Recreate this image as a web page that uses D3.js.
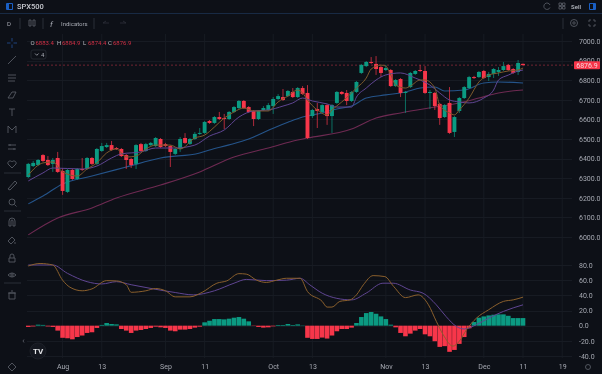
<!DOCTYPE html>
<html>
<head>
<meta charset="utf-8">
<script src="https://cdn.jsdelivr.net/npm/d3@7"></script>
<style>
html, body { margin: 0; padding: 0; background: #0d1017; overflow: hidden; }
svg { display: block; font-family: Roboto, sans-serif; filter: blur(0.4px); }
</style>
</head>
<body>
<script>
// candles (index = trading bar)
const opens  = [6306,6362,6367,6418,6393,6373,6403,6337,6230,6342,6296,6347,6347,6403,6373,6439,6459,6469,6454,6449,6418,6398,6373,6474,6439,6469,6464,6500,6474,6464,6424,6449,6505,6475,6500,6526,6531,6592,6582,6612,6607,6602,6638,6658,6694,6663,6643,6602,6648,6648,6668,6704,6714,6719,6740,6714,6760,6735,6617,6653,6638,6673,6617,6684,6740,6735,6694,6740,6837,6872,6893,6883,6867,6852,6852,6770,6806,6735,6765,6832,6852,6847,6735,6735,6679,6612,6684,6536,6643,6709,6760,6816,6816,6847,6816,6832,6842,6852,6878,6857,6842,6883.4];
const highs  = [6378,6388,6398,6423,6413,6403,6434,6352,6347,6347,6352,6403,6408,6408,6454,6480,6480,6490,6459,6454,6423,6403,6474,6480,6480,6485,6510,6505,6480,6469,6454,6510,6530,6505,6536,6556,6592,6597,6617,6638,6628,6643,6668,6699,6699,6668,6648,6648,6668,6684,6714,6729,6755,6750,6760,6765,6770,6775,6653,6684,6678,6678,6678,6745,6745,6750,6745,6796,6883,6898,6918,6923,6872,6878,6857,6806,6811,6745,6842,6852,6878,6872,6750,6740,6684,6678,6765,6617,6714,6770,6822,6822,6847,6852,6842,6862,6867,6893,6883,6862,6903,6884.9];
const lows   = [6301,6357,6362,6383,6362,6332,6327,6215,6225,6291,6291,6337,6342,6367,6367,6434,6454,6439,6444,6408,6347,6352,6347,6434,6434,6464,6459,6454,6459,6357,6418,6434,6475,6470,6495,6521,6526,6577,6577,6597,6551,6597,6633,6653,6653,6633,6566,6597,6643,6643,6628,6699,6694,6714,6709,6709,6725,6500,6607,6556,6633,6572,6531,6679,6725,6673,6689,6735,6832,6867,6883,6827,6816,6847,6765,6765,6714,6633,6760,6827,6842,6730,6653,6648,6572,6607,6526,6510,6633,6704,6755,6806,6811,6806,6796,6811,6822,6847,6847,6832,6827,6874.4];
const closes = [6373,6378,6393,6388,6367,6393,6332,6235,6342,6296,6347,6342,6403,6373,6449,6464,6469,6444,6449,6413,6393,6367,6469,6439,6474,6480,6505,6459,6464,6434,6449,6500,6480,6500,6526,6531,6587,6582,6612,6602,6602,6638,6663,6694,6658,6638,6602,6643,6658,6673,6704,6719,6699,6745,6714,6760,6730,6505,6648,6643,6673,6617,6673,6740,6730,6694,6740,6791,6878,6893,6888,6857,6837,6862,6770,6801,6735,6740,6837,6847,6847,6735,6740,6668,6607,6673,6531,6612,6709,6765,6816,6811,6842,6811,6832,6857,6852,6872,6852,6837,6888,6876.9];

// moving averages, read at the bars where they bend
const fastBars = [0,3,5,7,10,12,14,16,18,20,22,24,26,29,31,34,36,38,40,42,44,46,49,51,53,55,56,57,59,61,62,64,66,67,69,70,72,73,74,75,77,78,80,81,83,84,86,87,88,90,92,94,96,98,100,101];
const fastVals = [6316,6378,6383,6332,6311,6347,6378,6429,6449,6408,6413,6449,6469,6469,6449,6505,6520,6561,6607,6638,6658,6643,6643,6689,6719,6750,6735,6699,6648,6623,6648,6689,6735,6760,6811,6857,6877,6872,6827,6775,6760,6770,6801,6801,6760,6673,6633,6623,6648,6709,6791,6826,6837,6847,6852,6862];
const midBars  = [0,3,5,11,14,17,19,23,26,30,34,37,40,43,46,49,52,54,56,58,61,63,66,67,69,71,73,76,79,80,82,84,86,88,90,93,95,96,98,100,101];
const midVals  = [6286,6327,6352,6347,6362,6403,6424,6434,6454,6454,6469,6515,6546,6612,6643,6648,6668,6684,6709,6694,6679,6663,6663,6714,6760,6801,6827,6837,6811,6801,6775,6735,6699,6689,6684,6709,6750,6801,6826,6847,6852];
const slowBars = [0,3,7,13,20,27,35,37,41,45,50,53,56,60,63,66,69,73,77,80,83,85,89,93,96,101];
const slowVals = [6169,6209,6271,6311,6357,6403,6429,6444,6470,6500,6555,6585,6612,6633,6653,6668,6709,6725,6740,6760,6765,6745,6750,6786,6791,6786];
const longBars = [0,6,13,18,27,35,42,49,55,57,66,71,76,83,88,92,96,101];
const longVals = [6011,6097,6148,6199,6265,6332,6408,6454,6495,6505,6551,6607,6633,6663,6684,6709,6735,6750];

// MACD pane
const macdHist = [-1.7,-1,1.3,1,-1,-1.7,-6.5,-16,-16.6,-18,-15,-13,-9.6,-8.7,-3,1,3.5,2.2,1.7,-4.4,-6.5,-9.6,-6.5,-5.7,-4.4,-3,-1.3,-2.2,-3,-6.5,-7.4,-5.2,-5.2,-4.4,-2.6,-1.3,4.4,6.5,8.7,8.7,8.3,9.2,10.5,11.4,9.2,5.7,-0.4,-1.7,-2.6,-2.2,-0.9,0.9,0.9,2.2,0.9,1.7,0.4,-16,-17.5,-17.5,-15.7,-17,-13,-7.4,-4.4,-4.4,-2.6,3.5,11.4,16.6,18,15.7,12.2,8.7,1.3,-2.2,-9.6,-14,-10.5,-6.5,-4.4,-11.4,-14,-20.5,-28,-27,-34.5,-32,-24,-15,-3.5,4.8,10.5,12.2,13.5,14.4,14.9,14.9,13,10,10,10];
const macdBars = [0,2.4,5,7,8.5,11,13,16,18,20,21,24,26,28,30,33,35.5,38.5,40.5,43,44.5,46.6,48.6,50.7,52.7,55.5,57,60,61,62,63.6,65.7,67,68.4,70.4,72.8,74.6,77,79.6,81.7,83.3,84.7,86.7,88,89.5,91.5,94,97,99,101];
const macdVals = [78.7,82,80,60,50.7,46,48.5,59.4,59,54,44,46,49,46,38,38,44,56,59,68.6,68,60,57,60,62.5,62.5,45,32,24.5,24.5,32,34,40.6,53.8,66,64.7,51.6,37,40.6,27.5,5.7,-11.8,-27,-20.5,-5,10,21,32,34,37.6];
const signalBars = [0,5,8,12,15,18,21,25.5,30,33.7,38,42,44.5,48.6,52.7,55.5,57.5,60,63,66,69,72.4,74.5,78,80.6,83.3,85.3,87.4,89,91.5,94,97,101];
const signalVals = [80,80,69,58,55,58,54,48.5,43.7,40.6,46,56,61,59.4,60,62.5,53.7,42.8,36,34,43,56,56,47,42.8,27.5,12,-1,-4.4,1.3,10,18.8,27.5];

// axes
const priceTicks = [6000,6100,6200,6300,6400,6500,6600,6700,6800,6900,7000];
const macdTicks = [-40,-20,0,20,40,60,80];
const dateBars = [7,15,28,36,50,58,73,81,93,101,109];
const dateLabels = ["Aug","13","Sep","11","Oct","13","Nov","13","Dec","11","19"];
const lastPrice = 6876.9;

const width = 602;
const height = 374;
const bg = "#0d1017";
const up = "#0b9a82";
const down = "#f7364a";
const textCol = "#a6a9b2";
const iconCol = "#565a63";
const gridCol = "#171b23";

const svg = d3.select("body").append("svg")
    .attr("width", width)
    .attr("height", height);

svg.append("rect").attr("width", width).attr("height", height).attr("fill", bg);

var x = d3.scaleLinear().domain([0, 101]).range([28.3, 523]);
var y = d3.scaleLinear().domain([6000, 7000]).range([237, 41]);
var yMacd = d3.scaleLinear().domain([-40, 80]).range([356, 265]);

// grid
svg.append("g").selectAll("line").data(dateBars).join("line")
    .attr("x1", d => x(d)).attr("x2", d => x(d))
    .attr("y1", 34).attr("y2", 358)
    .attr("stroke", gridCol);
svg.append("g").selectAll("line").data(priceTicks).join("line")
    .attr("x1", 27).attr("x2", 572)
    .attr("y1", d => Math.round(y(d)) + 0.5).attr("y2", d => Math.round(y(d)) + 0.5)
    .attr("stroke", gridCol);
svg.append("g").selectAll("line").data(macdTicks).join("line")
    .attr("x1", 27).attr("x2", 572)
    .attr("y1", d => Math.round(yMacd(d)) + 0.5).attr("y2", d => Math.round(yMacd(d)) + 0.5)
    .attr("stroke", gridCol);

// last price dashed line
svg.append("line")
    .attr("x1", 27).attr("x2", 574)
    .attr("y1", y(lastPrice)).attr("y2", y(lastPrice))
    .attr("stroke", "#8a2a38").attr("stroke-width", 0.8)
    .attr("stroke-dasharray", "2,2");

// moving averages go under the candles
function drawLine(bars, vals, yScale, color, w) {
    const line = d3.line()
        .x((d, i) => x(bars[i]))
        .y(d => yScale(d))
        .curve(d3.curveMonotoneX);
    svg.append("path")
        .attr("d", line(vals))
        .attr("fill", "none")
        .attr("stroke", color)
        .attr("stroke-width", w);
}
drawLine(longBars, longVals, y, "#6e2a52", 1.1);
drawLine(slowBars, slowVals, y, "#25548a", 1.1);

// candles
const idx = d3.range(opens.length);
const bodyW = 3.9;
svg.append("g").selectAll("line").data(idx).join("line")
    .attr("x1", i => x(i)).attr("x2", i => x(i))
    .attr("y1", i => y(highs[i])).attr("y2", i => y(lows[i]))
    .attr("stroke", i => closes[i] >= opens[i] ? up : down)
    .attr("stroke-width", 0.7);
svg.append("g").selectAll("rect").data(idx).join("rect")
    .attr("x", i => x(i) - bodyW / 2)
    .attr("width", bodyW)
    .attr("y", i => y(Math.max(opens[i], closes[i])))
    .attr("height", i => Math.max(1, Math.abs(y(opens[i]) - y(closes[i]))))
    .attr("fill", i => closes[i] >= opens[i] ? up : down);

drawLine(midBars, midVals, y, "#5f4592", 1);
drawLine(fastBars, fastVals, y, "#7d5a2c", 1);

// MACD histogram
svg.append("g").selectAll("rect").data(idx).join("rect")
    .attr("x", i => x(i) - 2.3)
    .attr("width", 4.6)
    .attr("y", i => yMacd(Math.max(0, macdHist[i])))
    .attr("height", i => Math.abs(yMacd(macdHist[i]) - yMacd(0)))
    .attr("fill", i => macdHist[i] >= 0 ? up : down);
drawLine(signalBars, signalVals, yMacd, "#5f4592", 1);
drawLine(macdBars, macdVals, yMacd, "#8a5f2c", 1);

// price axis
function cleanAxis(g) {
    g.select(".domain").remove();
    g.selectAll(".tick line").remove();
    g.selectAll("text").attr("fill", textCol).attr("font-size", 7)
        .attr("font-family", "Roboto, sans-serif");
}
svg.append("g")
    .attr("transform", "translate(578,0)")
    .call(d3.axisRight(y).tickValues(priceTicks).tickFormat(d => d.toFixed(1)).tickSize(0).tickPadding(1))
    .call(cleanAxis);
svg.append("g")
    .attr("transform", "translate(578,0)")
    .call(d3.axisRight(yMacd).tickValues(macdTicks).tickFormat(d => d.toFixed(1)).tickSize(0).tickPadding(1))
    .call(cleanAxis);

// date axis
svg.append("g")
    .attr("transform", "translate(0,363)")
    .call(d3.axisBottom(x).tickValues(dateBars)
        .tickFormat((d, i) => dateLabels[i]).tickSize(0).tickPadding(1))
    .call(cleanAxis);

// last price tag
svg.append("rect").attr("x", 574).attr("y", y(lastPrice) - 4).attr("width", 26).attr("height", 8)
    .attr("rx", 1).attr("fill", down);
svg.append("text").attr("x", 587).attr("y", y(lastPrice) + 2.5)
    .attr("text-anchor", "middle").attr("font-size", 7).attr("fill", "#f4d6da")
    .text(lastPrice.toFixed(1));

// header and toolbars
svg.append("line").attr("x1", 0).attr("x2", width).attr("y1", 13.5).attr("y2", 13.5)
    .attr("stroke", "#182a44").attr("stroke-width", 1.2);
svg.append("rect").attr("x", 6).attr("y", 3).attr("width", 7).attr("height", 7).attr("rx", 1).attr("fill", "#1a5fc4");
svg.append("rect").attr("x", 9).attr("y", 4).attr("width", 3).attr("height", 5).attr("fill", bg);
svg.append("text").attr("x", 17).attr("y", 9).attr("font-size", 7.5).attr("font-weight", 500)
    .attr("fill", "#c8cad0").text("SPX500");
svg.append("text").attr("x", 7).attr("y", 26).attr("font-size", 6).attr("fill", textCol).text("D");
svg.append("text").attr("x", 61).attr("y", 26).attr("font-size", 6).attr("fill", textCol).text("Indicators");
svg.append("text").attr("x", 50).attr("y", 27).attr("font-size", 8).attr("font-style", "italic").attr("fill", textCol).text("f");
svg.append("text").attr("x", 581).attr("y", 8.5).attr("font-size", 6).attr("font-weight", 500)
    .attr("fill", "#b9bcc4").attr("text-anchor", "end").text("Sell");

// toolbar separators
[20, 43, 94, 563].forEach(s => {
    svg.append("line").attr("x1", s).attr("x2", s).attr("y1", 18).attr("y2", 29).attr("stroke", "#2a2e38");
});
[173, 211, 283].forEach(s => {
    svg.append("line").attr("x1", 4).attr("x2", 21).attr("y1", s).attr("y2", s).attr("stroke", "#2a2e38");
});

// OHLC legend
const legend = [["O", "6883.4", 30.5], ["H", "6884.9", 57], ["L", "6874.4", 83], ["C", "6876.9", 108]];
legend.forEach(l => {
    svg.append("text").attr("x", l[2]).attr("y", 45).attr("font-size", 6).attr("fill", "#b8bbc2").text(l[0]);
    svg.append("text").attr("x", l[2] + 5).attr("y", 45).attr("font-size", 6).attr("fill", "#d02f44").text(l[1]);
});
svg.append("rect").attr("x", 31).attr("y", 50).attr("width", 15).attr("height", 9).attr("rx", 2)
    .attr("fill", "none").attr("stroke", "#23272f");
svg.append("path").attr("d", "M35 53.5l1.8 1.8 1.8-1.8").attr("fill", "none").attr("stroke", textCol).attr("stroke-width", 0.8);
svg.append("text").attr("x", 41).attr("y", 57).attr("font-size", 6).attr("fill", textCol).text("4");

// side tool icons, plain strokes
const icons = [
    [12, 43, "M-5 0H-1.5M1.5 0H5M0 -5V-1.5M0 1.5V5", "#1f4a8a"],
    [12, 60, "M-4 4L4 -4", iconCol],
    [12, 78, "M-4 -3H4M-4 0H4M-4 3H3", iconCol],
    [12, 95, "M-4 3L0 -3H4L1 3Z", iconCol],
    [12, 112, "M-3 -3H3M0 -3V4", iconCol],
    [12, 129, "M-4 4V-3L0 1L4 -3V4", iconCol],
    [12, 147, "M-4 -2H4M-4 2H4M-2 -3V-1M2 1V3", iconCol],
    [12, 164, "M0 4L-4 0C-5 -3 -1 -4 0 -2C1 -4 5 -3 4 0Z", iconCol],
    [12, 185, "M-4 4L3 -4L5 -2L-2 5Z", iconCol],
    [12, 202, "M2.5 2.5L4.5 4.5M3 0A3 3 0 1 1 -3 0A3 3 0 1 1 3 0", iconCol],
    [12, 222, "M-3 4V-1A3 3 0 0 1 3 -1V4H1V-1A1 1 0 0 0 -1 -1V4Z", iconCol],
    [12, 240, "M-4 1L0 -3L3 0L-1 4ZM3 2V4", iconCol],
    [12, 258, "M-3 0H3V4H-3ZM-2 0V-2A2 2 0 0 1 2 -2V0", iconCol],
    [12, 275, "M-4 0Q0 -4 4 0Q0 4 -4 0ZM1.2 0A1.2 1.2 0 1 1 -1.2 0A1.2 1.2 0 1 1 1.2 0", iconCol],
    [12, 295, "M-3 -2H3V4H-3ZM-4 -2H4M-1 -4H1", iconCol],
    [12, 367, "M0 -4L4 0L0 4L-4 0Z", iconCol],
    [31, 23, "M-2 -3V3H0V-3ZM2 -3V3H4V-3Z", iconCol],
    [106, 23, "M-3 0L0 -2M-3 0H3", "#2a2e38"],
    [123, 23, "M3 0L0 -2M3 0H-3", "#2a2e38"],
    [547, 6, "M3 -1A3.2 3.2 0 1 0 3 1.5", iconCol],
    [562, 6, "M-3 -3H-0.5V-0.5H-3ZM0.5 -3H3V-0.5H0.5ZM-3 0.5H-0.5V3H-3ZM0.5 0.5H3V3H0.5Z", iconCol],
    [574, 23, "M3.5 0A3.5 3.5 0 1 1 -3.5 0A3.5 3.5 0 1 1 3.5 0M1.2 0A1.2 1.2 0 1 1 -1.2 0A1.2 1.2 0 1 1 1.2 0", iconCol],
    [592, 23, "M-3 -1V-3H-1M1 -3H3V-1M3 1V3H1M-1 3H-3V1", iconCol],
    [588, 367, "M2.5 0A2.5 2.5 0 1 1 -2.5 0A2.5 2.5 0 1 1 2.5 0", iconCol],
    [24, 341, "M0 -1.5L-1 0L0 1.5", iconCol]
];
icons.forEach(d => {
    svg.append("path")
        .attr("transform", "translate(" + [d[0], d[1]].join(",") + ")")
        .attr("d", d[2]).attr("fill", "none").attr("stroke", d[3]).attr("stroke-width", 0.9);
});

// top right panel toggle
svg.append("rect").attr("x", 589).attr("y", 3).attr("width", 7).attr("height", 7).attr("rx", 1).attr("fill", "#1a5fc4");
svg.append("rect").attr("x", 590).attr("y", 4).attr("width", 3).attr("height", 5).attr("fill", bg);

// watermark
svg.append("circle").attr("cx", 38).attr("cy", 351).attr("r", 8).attr("fill", "#14171f").attr("stroke", "#1d2028");
svg.append("text").attr("x", 38).attr("y", 354).attr("text-anchor", "middle").attr("font-size", 8)
    .attr("font-weight", 700).attr("fill", "#e6e7ea").text("TV");
</script>
</body>
</html>
